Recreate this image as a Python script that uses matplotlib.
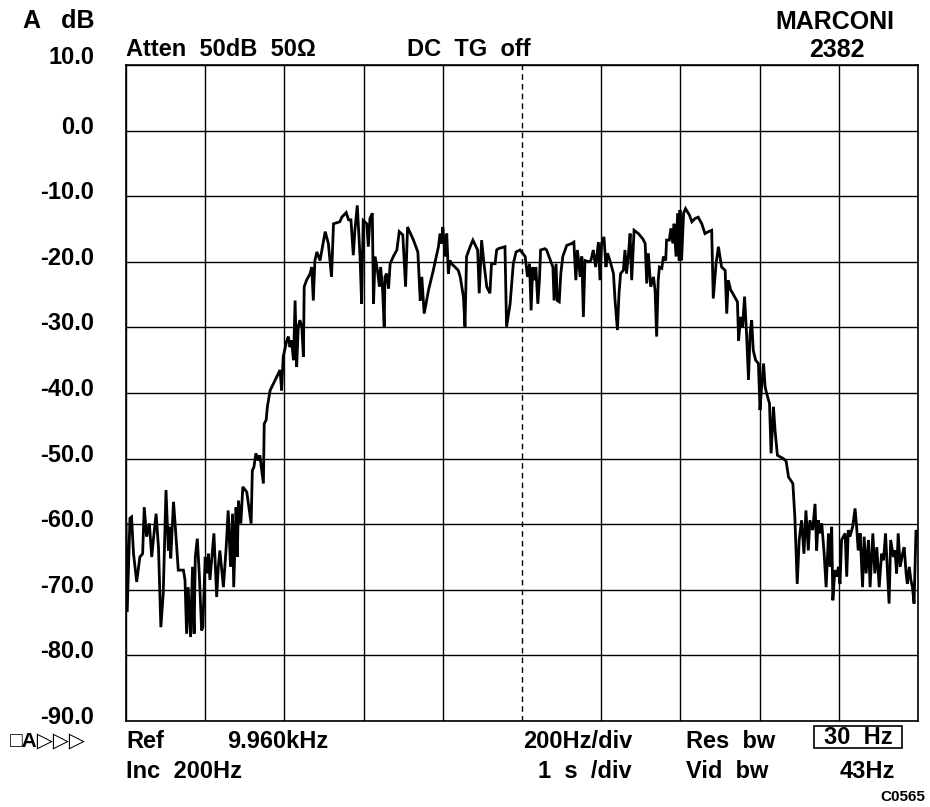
import numpy as np
import matplotlib
matplotlib.use('Agg')
import matplotlib.pyplot as plt
import matplotlib.transforms as mtransforms
from matplotlib.patches import Rectangle

plt.rcParams['font.family'] = ['Liberation Sans', 'DejaVu Sans']
plt.rcParams['font.weight'] = 'bold'

# trace (Hz, dB)
freq_hz = [
    8960, 8963, 8970, 8974, 8979, 8987, 8995, 9002, 9006, 9012, 9019, 9025, 9029, 9036, 9042, 9048,
    9054, 9061, 9067, 9071, 9073, 9080, 9084, 9092, 9105, 9109, 9113, 9117, 9123, 9128, 9132, 9135,
    9140, 9145, 9151, 9154, 9160, 9164, 9168, 9172, 9182, 9189, 9193, 9197, 9206, 9213, 9218, 9224,
    9229, 9232, 9238, 9241, 9244, 9250, 9255, 9265, 9276, 9279, 9283, 9288, 9294, 9298, 9307,
    9309, 9314, 9317, 9324, 9349, 9353, 9357, 9366, 9370, 9374, 9378, 9383, 9387, 9391, 9395, 9399,
    9404, 9408, 9410, 9416, 9425, 9429, 9433, 9437, 9442, 9450, 9463, 9471, 9479, 9484, 9500, 9505,
    9516, 9522, 9528, 9534, 9538, 9544, 9551, 9555, 9559, 9568, 9572, 9576, 9582, 9585, 9589, 9595,
    9600, 9603, 9608, 9612, 9614, 9618, 9623, 9627, 9635, 9644, 9650, 9659, 9666, 9671, 9686, 9697,
    9703, 9707, 9713, 9724, 9736, 9749, 9753, 9757, 9760, 9766, 9770, 9774, 9778, 9782, 9791, 9799,
    9804, 9812, 9816, 9820, 9829, 9836, 9848, 9852, 9858, 9864, 9871, 9879, 9883, 9892, 9896, 9900,
    9917, 9921, 9930, 9938, 9945, 9955, 9968,
    9974, 9979, 9983, 9987, 9991, 9995, 10000, 10004, 10007, 10018, 10022, 10027, 10038, 10041, 10046, 10049,
    10054, 10058, 10063, 10073, 10086, 10091, 10096, 10100, 10107, 10111, 10115, 10119, 10128, 10134, 10140, 10146,
    10153, 10157, 10161, 10167, 10172, 10176, 10182, 10191, 10195, 10201, 10205, 10209, 10216, 10220, 10224, 10229,
    10233, 10237, 10243, 10254, 10265, 10271, 10275, 10279, 10285, 10292, 10296, 10300, 10304, 10307, 10313, 10317,
    10323, 10325, 10332, 10336, 10341, 10344, 10349, 10353, 10357, 10359, 10363, 10368, 10373, 10383, 10389, 10397,
    10405, 10414, 10422, 10431, 10439, 10443, 10450, 10456, 10464, 10473, 10477, 10481, 10487, 10492, 10504, 10507,
    10512, 10517, 10522, 10527, 10532, 10536, 10540, 10544, 10550, 10557, 10561, 10565, 10570, 10574, 10578, 10585,
    10589, 10595, 10599, 10605,
    10620, 10627, 10633, 10644, 10649, 10655, 10660, 10666, 10672, 10677, 10683, 10687, 10694, 10700, 10704, 10708,
    10713, 10717, 10723, 10728, 10734, 10738, 10742, 10745, 10750, 10755, 10759, 10763, 10767, 10776, 10780, 10784,
    10788, 10795, 10801, 10805, 10809, 10814, 10820, 10824, 10829, 10835, 10839, 10846, 10851, 10856, 10862, 10868,
    10873, 10878, 10883, 10887, 10891, 10898, 10902, 10906, 10910, 10915, 10921, 10925, 10930, 10933, 10938, 10942,
    10946, 10950, 10955, 10960,
]
level_db = [
    -59.9, -73.4, -59.1, -58.9, -64.5, -68.8, -65.0, -64.5, -57.4, -61.9, -59.9, -65.0, -62.4, -58.4, -63.5, -75.7,
    -70.6, -54.8, -64.0, -60.4, -65.2, -56.6, -59.9, -67.0, -67.0, -68.5, -76.7, -69.6, -77.2, -66.5, -76.7, -65.0,
    -62.2, -67.5, -76.2, -75.7, -65.0, -67.5, -64.5, -68.5, -61.4, -71.1, -66.5, -64.0, -69.6, -63.5, -57.9, -66.5,
    -58.4, -69.6, -57.4, -65.0, -56.4, -59.9, -54.3, -55.1, -59.9, -51.8, -51.3, -49.2, -50.3, -49.5, -53.8,
    -44.7, -44.1, -42.1, -39.6, -36.5, -39.6, -34.5, -32.0, -31.4, -33.0, -32.0, -35.0, -25.9, -36.0, -29.9, -28.9,
    -29.9, -34.5, -23.8, -22.8, -21.8, -20.8, -25.9, -19.8, -18.5, -19.8, -15.4, -17.2, -22.3, -14.2, -13.9, -13.2,
    -12.5, -13.6, -13.6, -19.0, -15.2, -11.4, -19.2, -26.4, -13.7, -14.2, -17.7, -13.4, -12.6, -26.4, -19.2, -21.3,
    -23.8, -20.8, -24.3, -29.9, -22.3, -21.8, -24.1, -20.3, -19.2, -18.2, -15.4, -15.9, -23.8, -14.7, -16.7, -18.5,
    -25.9, -22.3, -27.9, -24.3, -21.3, -17.7, -15.7, -17.2, -14.7, -19.2, -15.7, -21.8, -19.8, -20.3, -20.8, -21.3,
    -22.3, -25.3, -29.9, -19.2, -17.7, -16.7, -18.2, -24.8, -16.7, -20.3, -23.8, -24.8, -20.3, -20.3, -18.2, -18.0,
    -17.7, -29.9, -26.4, -20.3, -18.5, -18.2, -19.2,
    -22.3, -20.3, -27.4, -20.8, -22.8, -20.8, -26.4, -22.8, -18.2, -18.0, -18.2, -19.0, -20.8, -25.9, -20.3, -25.9,
    -26.1, -21.8, -19.2, -17.5, -17.2, -17.0, -22.8, -18.2, -22.3, -19.2, -28.4, -19.8, -20.0, -19.8, -18.2, -20.8,
    -17.0, -22.8, -17.2, -16.2, -20.8, -18.7, -19.8, -21.8, -25.9, -30.4, -24.8, -21.8, -21.3, -18.2, -21.8, -18.7,
    -15.7, -22.8, -15.2, -15.7, -16.5, -17.2, -23.3, -18.7, -23.8, -22.3, -24.3, -31.4, -22.8, -20.8, -21.0, -19.2,
    -19.8, -16.7, -16.7, -14.9, -17.2, -14.2, -19.2, -12.6, -19.8, -12.1, -19.8, -12.6, -11.9, -12.9, -13.9, -13.4,
    -13.2, -14.2, -15.7, -15.4, -15.2, -25.6, -20.3, -17.7, -20.8, -21.3, -27.9, -22.8, -24.3, -24.8, -26.1, -32.0,
    -28.4, -29.9, -25.3, -30.9, -38.0, -30.9, -28.9, -33.5, -35.0, -35.5, -42.6, -39.1, -35.5, -39.1, -40.1, -41.6,
    -49.2, -42.1, -45.7, -49.5,
    -50.0, -50.4, -52.8, -53.8, -58.9, -69.1, -62.4, -59.4, -64.5, -57.9, -64.0, -59.4, -60.9, -56.9, -64.0, -59.4,
    -61.4, -59.9, -64.5, -69.6, -61.4, -66.5, -60.4, -71.6, -67.0, -68.0, -66.5, -69.1, -62.4, -61.4, -68.0, -60.9,
    -61.9, -60.4, -57.6, -60.4, -64.0, -61.4, -69.6, -61.9, -67.5, -62.4, -69.6, -61.4, -67.5, -63.5, -69.6, -64.5,
    -65.5, -61.4, -67.5, -72.1, -62.4, -65.0, -64.0, -67.5, -61.4, -66.5, -64.5, -63.5, -67.5, -69.1, -66.5, -68.5,
    -69.6, -72.1, -60.9, -61.7,
]

ref_hz = 9960
span_hz = 2000
db_ticks = [10, 0, -10, -20, -30, -40, -50, -60, -70, -80, -90]
db_labels = ['%.1f' % v for v in db_ticks]

W, H = 930, 807
fig = plt.figure(figsize=(W / 100, H / 100), dpi=100)
ax = fig.add_axes([126 / W, 1 - 721 / H, 792 / W, 656 / H])

ax.plot(freq_hz, level_db, color='black', lw=2.0, solid_joinstyle='miter')

ax.set_xlim(ref_hz - span_hz / 2, ref_hz + span_hz / 2)
ax.set_ylim(-90, 10)
ax.set_yticks(db_ticks)
ax.set_yticklabels(db_labels)
ax.set_xticks([])
ax.tick_params(axis='y', length=0, pad=23, labelsize=17)
for i, lab in enumerate(ax.get_yticklabels()):
    up = 10 if i == 0 else 6
    shift = mtransforms.ScaledTranslation(0, up / 100, fig.dpi_scale_trans)
    lab.set_transform(lab.get_transform() + shift)

for v in db_ticks:
    ax.axhline(v, color='black', lw=1.0)
for k in range(11):
    f = ref_hz - span_hz / 2 + k * span_hz / 10
    if k == 5:
        ax.axvline(f, color='black', lw=1.0, ls=(0, (4, 3)))
    else:
        ax.axvline(f, color='black', lw=1.0)
for s in ax.spines.values():
    s.set_linewidth(1.2)


def put(s, x, y, ha='left', size=17):
    fig.text(x / W, 1 - y / H, s, ha=ha, va='center', fontsize=size, fontweight='bold')


put('A   dB', 23, 21, size=18)
put('MARCONI', 835, 22, ha='center', size=18)
put('Atten  50dB  50Ω', 126, 50)
put('DC  TG  off', 407, 50)
put('2382', 837, 50, ha='center', size=18)

put('□A▷▷▷', 10, 741, size=15)
put('Ref', 126, 742)
put('9.960kHz', 328, 742, ha='right')
put('200Hz/div', 632, 742, ha='right')
put('Res  bw', 686, 742)
put('30  Hz', 858, 737, ha='center')
fig.patches.append(Rectangle((814 / W, 1 - 748 / H), 88 / W, 22 / H, transform=fig.transFigure,
                             fill=False, ec='black', lw=1.2))
put('Inc  200Hz', 126, 771)
put('1  s  /div', 632, 771, ha='right')
put('Vid  bw', 686, 771)
put('43Hz', 895, 771, ha='right')
put('C0565', 925, 797, ha='right', size=11)

plt.savefig('out.png', dpi=100)
